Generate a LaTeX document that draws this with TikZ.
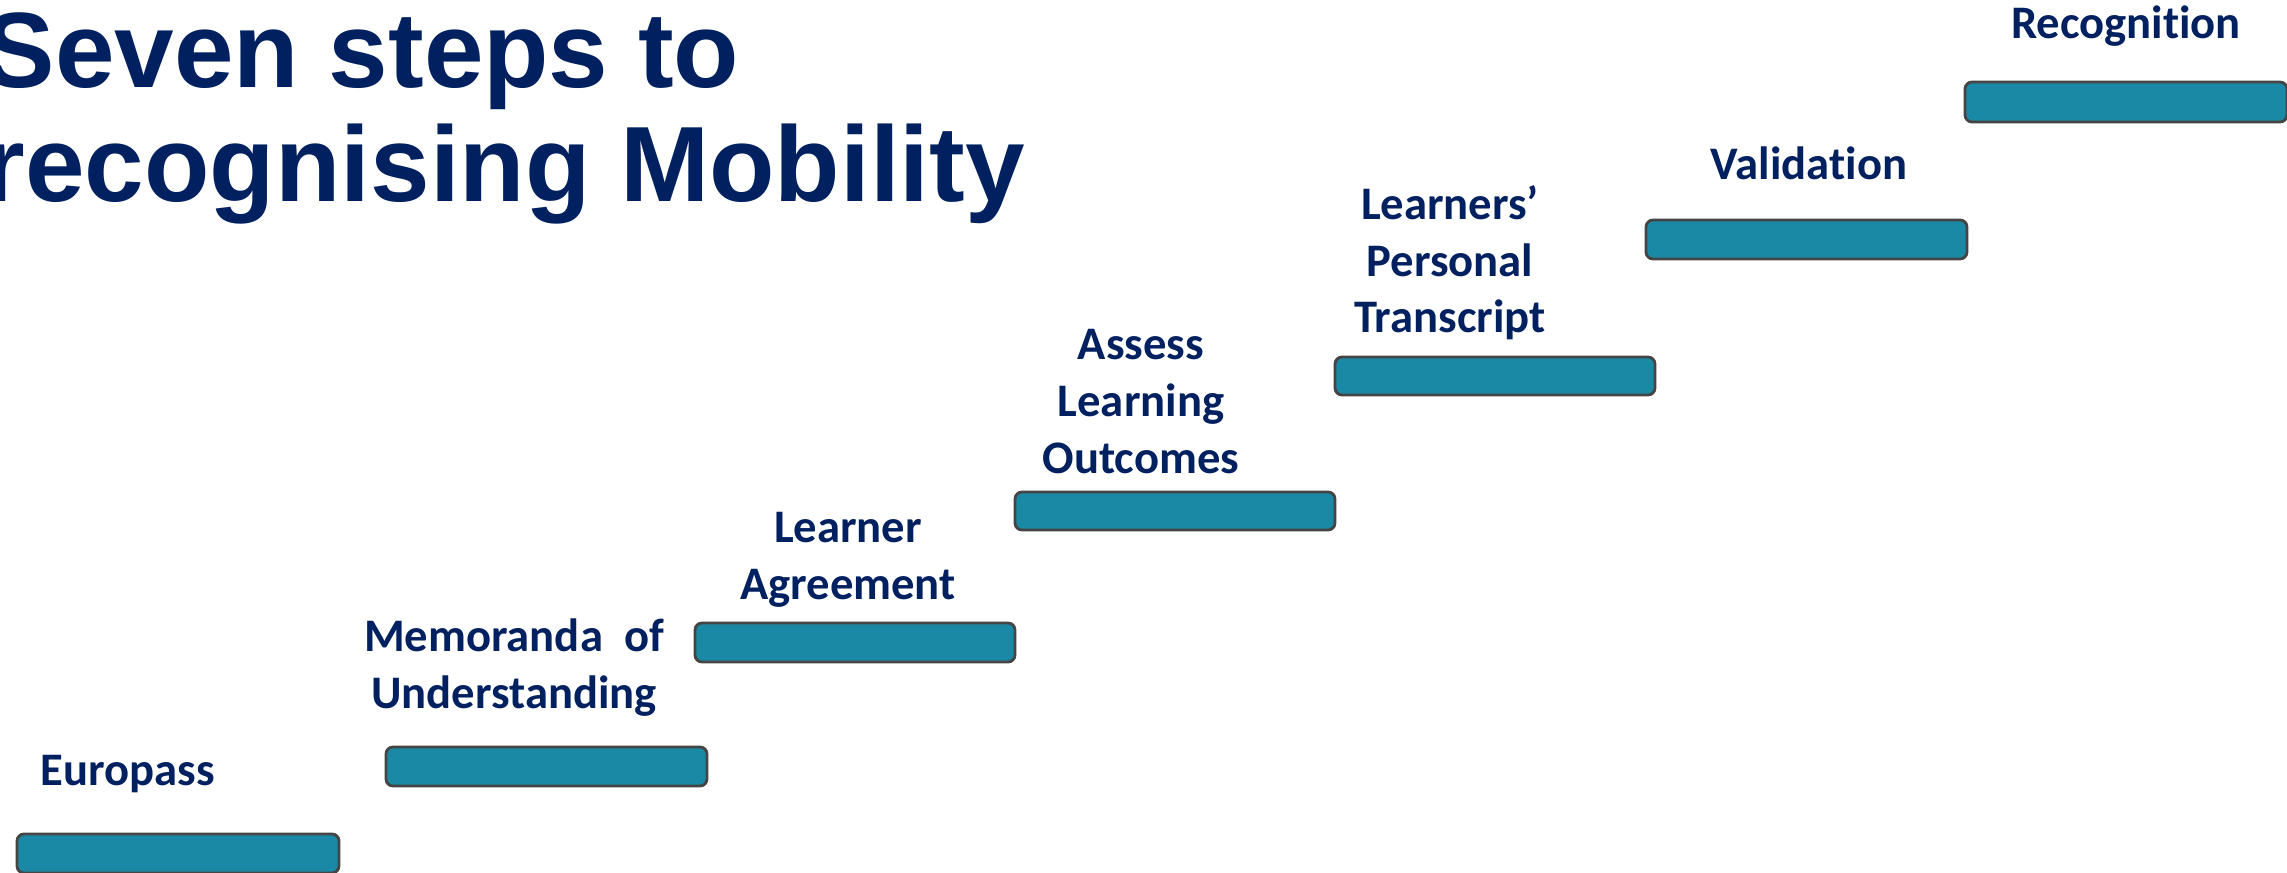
\documentclass[tikz,border=0pt]{standalone}
\usepackage{fontspec}
\setmainfont{Carlito}[Ligatures=NoCommon]
\newfontfamily\titlefont{Liberation Sans}
\definecolor{navy}{HTML}{002060}
\definecolor{barteal}{HTML}{1A89A5}
\definecolor{barline}{HTML}{454545}
\tikzset{
  stepbar/.style={draw=barline,fill=barteal,line width=0.8pt,rounded corners=2pt},
  steplabel/.style={text=navy,font=\bfseries\fontsize{13.26}{16.2}\selectfont,align=center,inner sep=0pt,anchor=base},
  titleline/.style={text=navy,font=\titlefont\bfseries\fontsize{30.45}{32.4}\selectfont,inner sep=0pt,anchor=base west}
}
\begin{document}
\begin{tikzpicture}[x=0.01cm,y=-0.01cm]
 \useasboundingbox (0,0) rectangle (2287,873);
 % title
 \node[titleline] (title1) at (-17,88) {Seven steps to};
 \node[titleline] (title2) at (-17,202) {recognising Mobility};
 % the seven steps
 \draw[stepbar](17,834) rectangle (339,873);
 \draw[stepbar](386,747) rectangle (707,786);
 \draw[stepbar](695,623) rectangle (1015,662);
 \draw[stepbar](1015,492) rectangle (1335,530);
 \draw[stepbar](1335,357) rectangle (1655,395);
 \draw[stepbar](1646,220) rectangle (1967,259);
 \draw[stepbar](1965,82) rectangle (2287,122);
 % labels (base = last line)
 \node[steplabel] (europass) at (128,785) {Europass};
 \node[steplabel] (memo) at (514,708) {Memoranda\ \ of\\Understanding};
 \node[steplabel] (agree) at (848,599) {Learner\\Agreement};
 \node[steplabel] (assess) at (1141,473) {Assess\\Learning\\Outcomes};
 \node[steplabel] (transcript) at (1450,333) {Learners’\\Personal\\Transcript};
 \node[steplabel] (valid) at (1809,180) {Validation};
 \node[steplabel] (recog) at (2126,39) {Recognition};
\end{tikzpicture}
\end{document}
